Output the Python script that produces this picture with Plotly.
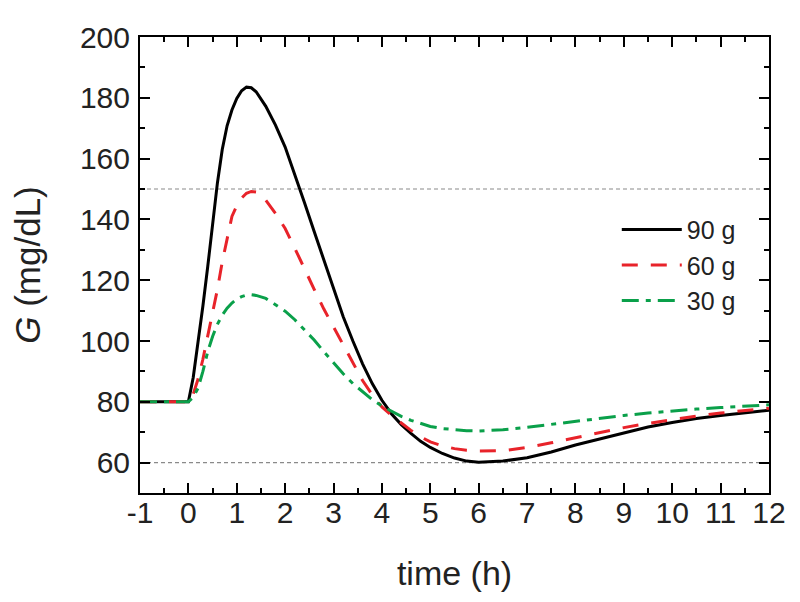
import plotly.graph_objects as go

time_h = [-1, 0, 0.1, 0.2, 0.3, 0.4, 0.5, 0.6, 0.7, 0.8, 0.9, 1.0, 1.1, 1.2, 1.3, 1.4,
          1.6, 1.8, 2.0, 2.2, 2.4, 2.6, 2.8, 3.0, 3.2, 3.4, 3.6, 3.8, 4.0, 4.2, 4.4, 4.6, 4.8, 5.0,
          5.25, 5.5, 5.75, 6.0, 6.5, 7.0, 7.5, 8.0, 8.5, 9.0, 9.5, 10.0, 10.5, 11.0, 11.5, 12.0]

g_90 = [80, 80, 88, 99, 111.5, 124.5, 138, 152, 163, 170.8, 176, 179.8, 182.3, 183.5, 183.3, 182,
        177.2, 171, 163.8, 155, 145.5, 136, 126.5, 117, 108, 100, 92.5, 86, 80.5, 76, 72.5, 69.6, 67, 65,
        63, 61.5, 60.5, 60.1, 60.5, 61.6, 63.5, 65.8, 67.8, 69.8, 71.7, 73.2, 74.5, 75.5, 76.4, 77.2]

g_60 = [80, 80, 82.5, 87.5, 94, 101.5, 109.5, 117, 126, 134, 141, 144.5, 147, 148.6, 149.2, 149,
        146.3, 142, 137, 130.5, 123.5, 117, 110.5, 104.5, 98.5, 92.5, 87, 82.3, 78.3, 75.5, 72.9, 70.6, 68.5, 66.8,
        65.5, 64.6, 64.1, 63.8, 63.9, 65, 66.5, 68.2, 70, 71.5, 72.9, 74.2, 75.3, 76.3, 77.2, 77.9]

g_30 = [80, 80, 81.5, 84.5, 90, 96.5, 101.5, 105.5, 108.5, 110.8, 112.5, 113.8, 114.6, 115.1, 115.2, 115,
        114, 112, 109.8, 107, 103.8, 100.3, 96.5, 92.8, 89.2, 86, 83.2, 80.7, 78.6, 76.8, 75.2, 73.9, 72.8, 71.9,
        71.2, 70.8, 70.5, 70.4, 70.8, 71.6, 72.6, 73.6, 74.6, 75.5, 76.3, 77, 77.6, 78.1, 78.6, 79]

series_names = ["90 g", "60 g", "30 g"]
limits = [150, 60]
x_ticks = list(range(-1, 13))
y_ticks = list(range(60, 201, 20))

FONT = "Liberation Sans, Arial, sans-serif"

fig = go.Figure()
fig.add_trace(go.Scatter(x=time_h, y=g_90, name=series_names[0], mode="lines",
                         line=dict(color="#000000", width=3)))
fig.add_trace(go.Scatter(x=time_h, y=g_60, name=series_names[1], mode="lines",
                         line=dict(color="#e8232a", width=3, dash="16px,13px")))
fig.add_trace(go.Scatter(x=time_h, y=g_30, name=series_names[2], mode="lines",
                         line=dict(color="#0aa04a", width=3, dash="17px,7px,5px,7px")))

for lv in limits:
    fig.add_hline(y=lv, line=dict(color="#8a8a8a", width=1.2, dash="4px,3px"), layer="below")

axis_common = dict(showgrid=False, zeroline=False, showline=True, linecolor="#000", linewidth=2,
                   mirror="allticks", ticks="inside", ticklen=10, tickwidth=1.5, tickcolor="#000",
                   tickfont=dict(family=FONT, size=30, color="#222"))

fig.update_xaxes(range=[-1, 12], tickvals=x_ticks, ticktext=[str(v) for v in x_ticks],
                 minor=dict(ticks="inside", ticklen=5, tickwidth=1.5, tickcolor="#000", dtick=0.5, tick0=-1),
                 title=dict(text="time (h)", font=dict(family=FONT, size=34, color="#222"), standoff=33),
                 ticklabelstandoff=-8, **axis_common)
fig.update_yaxes(range=[50, 200], tickvals=y_ticks, ticktext=[str(v) for v in y_ticks],
                 minor=dict(ticks="inside", ticklen=5, tickwidth=1.5, tickcolor="#000", dtick=10, tick0=50),
                 title=dict(text="<i>G</i> (mg/dL)", font=dict(family=FONT, size=35, color="#222"), standoff=31),
                 ticklabelstandoff=2, **axis_common)

fig.update_layout(
    width=792, height=594,
    margin=dict(l=132, r=31, t=21, b=109),
    paper_bgcolor="white", plot_bgcolor="white",
    showlegend=True,
    legend=dict(x=0.758, y=0.628, xanchor="left", yanchor="top", bgcolor="rgba(0,0,0,0)",
                font=dict(family=FONT, size=25, color="#222"), itemwidth=60, tracegroupgap=0),
)

fig.write_html("out.html")
